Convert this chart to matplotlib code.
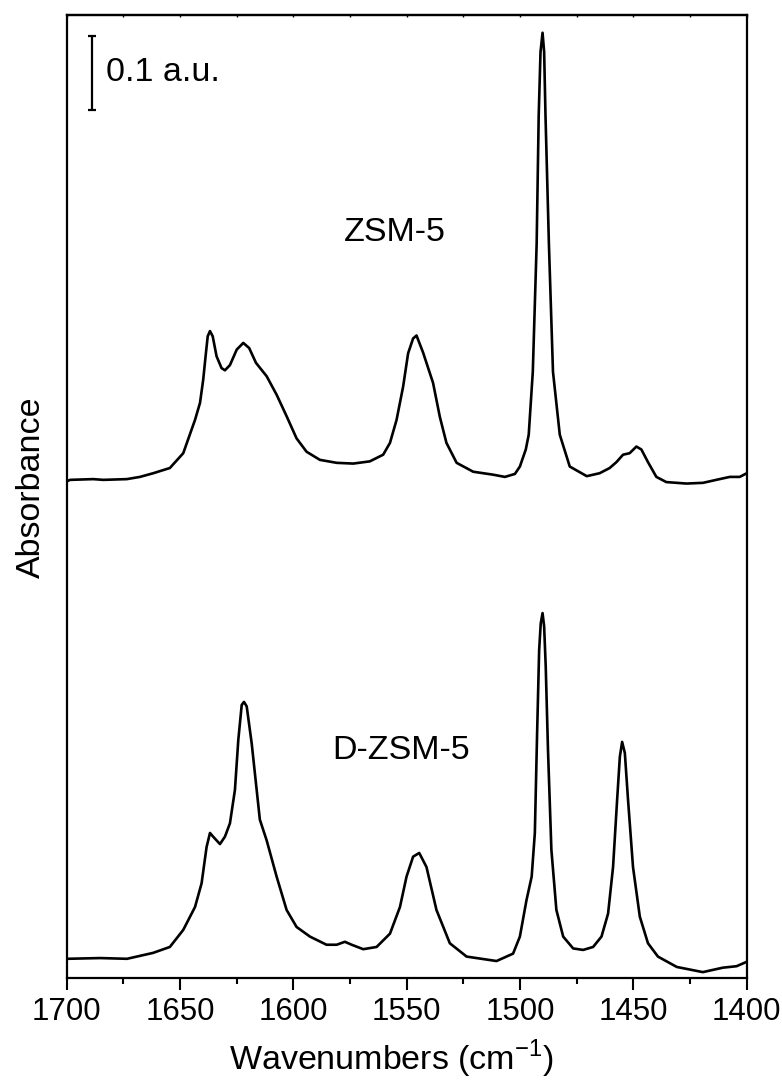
import matplotlib
matplotlib.use("Agg")
import matplotlib.pyplot as plt

plt.rcParams['font.family'] = ['Liberation Sans', 'DejaVu Sans']
plt.rcParams['mathtext.fontset'] = 'custom'
plt.rcParams['mathtext.rm'] = 'Liberation Sans'

# ZSM-5 spectrum (wavenumber, absorbance)
zsm_wn = [1700.0, 1698.5, 1688.3, 1683.9, 1673.5, 1667.7, 1661.8, 1654.5, 1648.6, 1643.4,
          1641.2, 1639.8, 1638.6, 1637.8, 1636.8, 1635.6, 1633.9, 1631.7, 1630.2, 1628.0,
          1625.0, 1622.1, 1619.5, 1616.5, 1611.8, 1607.4, 1603.0, 1598.6, 1594.2, 1588.3,
          1580.9, 1573.6, 1566.3, 1560.4, 1557.4, 1554.5, 1551.6, 1549.4, 1547.2, 1545.7,
          1542.8, 1538.4, 1535.4, 1532.5, 1528.0, 1520.7, 1511.9, 1506.7, 1502.3, 1500.1,
          1497.5, 1496.2, 1494.4, 1492.7, 1491.8, 1491.0, 1490.1, 1489.4, 1488.8, 1487.3,
          1485.5, 1482.5, 1478.1, 1470.6, 1464.9, 1460.5, 1457.5, 1454.6, 1451.7, 1448.7,
          1446.5, 1443.6, 1439.9, 1435.5, 1426.6, 1419.3, 1412.0, 1407.5, 1403.1, 1400.0]
zsm_abs = [0.671, 0.673, 0.674, 0.673, 0.674, 0.677, 0.682, 0.689, 0.709, 0.754,
           0.777, 0.808, 0.844, 0.867, 0.874, 0.867, 0.840, 0.824, 0.821, 0.828,
           0.849, 0.858, 0.851, 0.831, 0.813, 0.788, 0.759, 0.729, 0.711, 0.700,
           0.696, 0.695, 0.698, 0.707, 0.723, 0.754, 0.799, 0.844, 0.864, 0.868,
           0.845, 0.804, 0.758, 0.723, 0.696, 0.684, 0.680, 0.677, 0.681, 0.691,
           0.714, 0.734, 0.819, 0.992, 1.165, 1.251, 1.277, 1.251, 1.165, 0.992,
           0.819, 0.734, 0.691, 0.678, 0.682, 0.689, 0.697, 0.707, 0.709, 0.718,
           0.714, 0.697, 0.677, 0.670, 0.668, 0.669, 0.674, 0.677, 0.677, 0.682]

# D-ZSM-5 spectrum (wavenumber, absorbance)
dzsm_wn = [1700.0, 1685.3, 1673.4, 1661.9, 1654.5, 1648.6, 1643.4, 1640.5, 1638.3, 1636.8,
           1635.4, 1632.4, 1630.2, 1628.0, 1625.8, 1624.3, 1622.8, 1621.8, 1620.6, 1618.4,
           1616.2, 1614.8, 1611.8, 1607.4, 1603.0, 1598.6, 1592.7, 1585.4, 1580.9, 1577.3,
           1574.3, 1569.2, 1563.3, 1557.4, 1553.0, 1550.1, 1547.2, 1544.5, 1541.3, 1536.9,
           1531.0, 1523.6, 1510.4, 1503.1, 1500.1, 1497.2, 1494.9, 1493.5, 1492.5, 1491.6,
           1490.9, 1490.1, 1489.4, 1488.7, 1487.7, 1486.2, 1484.0, 1481.0, 1476.6, 1472.2,
           1467.8, 1464.1, 1461.2, 1459.0, 1457.2, 1456.0, 1455.0, 1453.8, 1452.4, 1450.2,
           1447.2, 1443.6, 1439.2, 1430.9, 1419.4, 1410.6, 1404.5, 1400.0]
dzsm_abs = [0.026, 0.027, 0.026, 0.034, 0.042, 0.065, 0.096, 0.128, 0.177, 0.196,
            0.191, 0.181, 0.191, 0.209, 0.254, 0.322, 0.369, 0.373, 0.367, 0.317,
            0.254, 0.214, 0.186, 0.137, 0.092, 0.069, 0.056, 0.045, 0.045, 0.049,
            0.045, 0.039, 0.042, 0.060, 0.096, 0.137, 0.164, 0.169, 0.150, 0.092,
            0.047, 0.029, 0.023, 0.033, 0.056, 0.105, 0.137, 0.196, 0.331, 0.443,
            0.479, 0.493, 0.475, 0.421, 0.308, 0.173, 0.092, 0.056, 0.040, 0.038,
            0.042, 0.056, 0.087, 0.150, 0.241, 0.299, 0.319, 0.304, 0.241, 0.150,
            0.083, 0.047, 0.029, 0.015, 0.008, 0.014, 0.016, 0.022]

labels = ["ZSM-5", "D-ZSM-5"]
xticks = [1700, 1650, 1600, 1550, 1500, 1450, 1400]
minor_xticks = [1675, 1625, 1575, 1525, 1475, 1425]
scale_bar = 0.1

fig = plt.figure(figsize=(7.82, 10.86), dpi=100)
ax = fig.add_axes([0.0853, 0.0994, 0.8697, 0.8868])

ax.plot(zsm_wn, zsm_abs, color='black', lw=1.9, solid_joinstyle='round')
ax.plot(dzsm_wn, dzsm_abs, color='black', lw=1.9, solid_joinstyle='round')

ax.set_xlim(1700, 1400)
ax.set_ylim(0, 1.301)
ax.set_xticks(xticks)
ax.set_xticks(minor_xticks, minor=True)
ax.set_yticks([])
ax.tick_params(axis='x', which='major', direction='out', length=8.5, width=1.5,
               labelsize=22.5, pad=5, top=False)
ax.tick_params(axis='x', which='minor', direction='out', length=4.5, width=1.5, top=False)
for s in ax.spines.values():
    s.set_linewidth(1.6)

sec = ax.secondary_xaxis('top')
sec.set_xticks(xticks)
sec.set_xticks(minor_xticks, minor=True)
sec.tick_params(axis='x', which='both', direction='in', length=1.5, width=1.0,
                labeltop=False)
sec.spines['top'].set_linewidth(1.6)

ax.set_xlabel("Wavenumbers (cm$^{\\mathregular{-1}}$)", fontsize=24.5)
ax.xaxis.set_label_coords(0.477, -0.062)
ax.set_ylabel("Absorbance", fontsize=24.5)
ax.yaxis.set_label_coords(-0.029, 0.51)

ax.text(1555.3, 1.007, labels[0], fontsize=24.5, ha='center', va='center')
ax.text(1552.6, 0.308, labels[1], fontsize=24.5, ha='center', va='center')

# scale bar
ax.errorbar([1688.8], [1.223], yerr=[scale_bar / 2], color='black', lw=1.6,
            capsize=3, capthick=1.6)
ax.text(1682.8, 1.223, "0.1 a.u.", fontsize=24.5, ha='left', va='center')

fig.savefig("out.png", dpi=100)
